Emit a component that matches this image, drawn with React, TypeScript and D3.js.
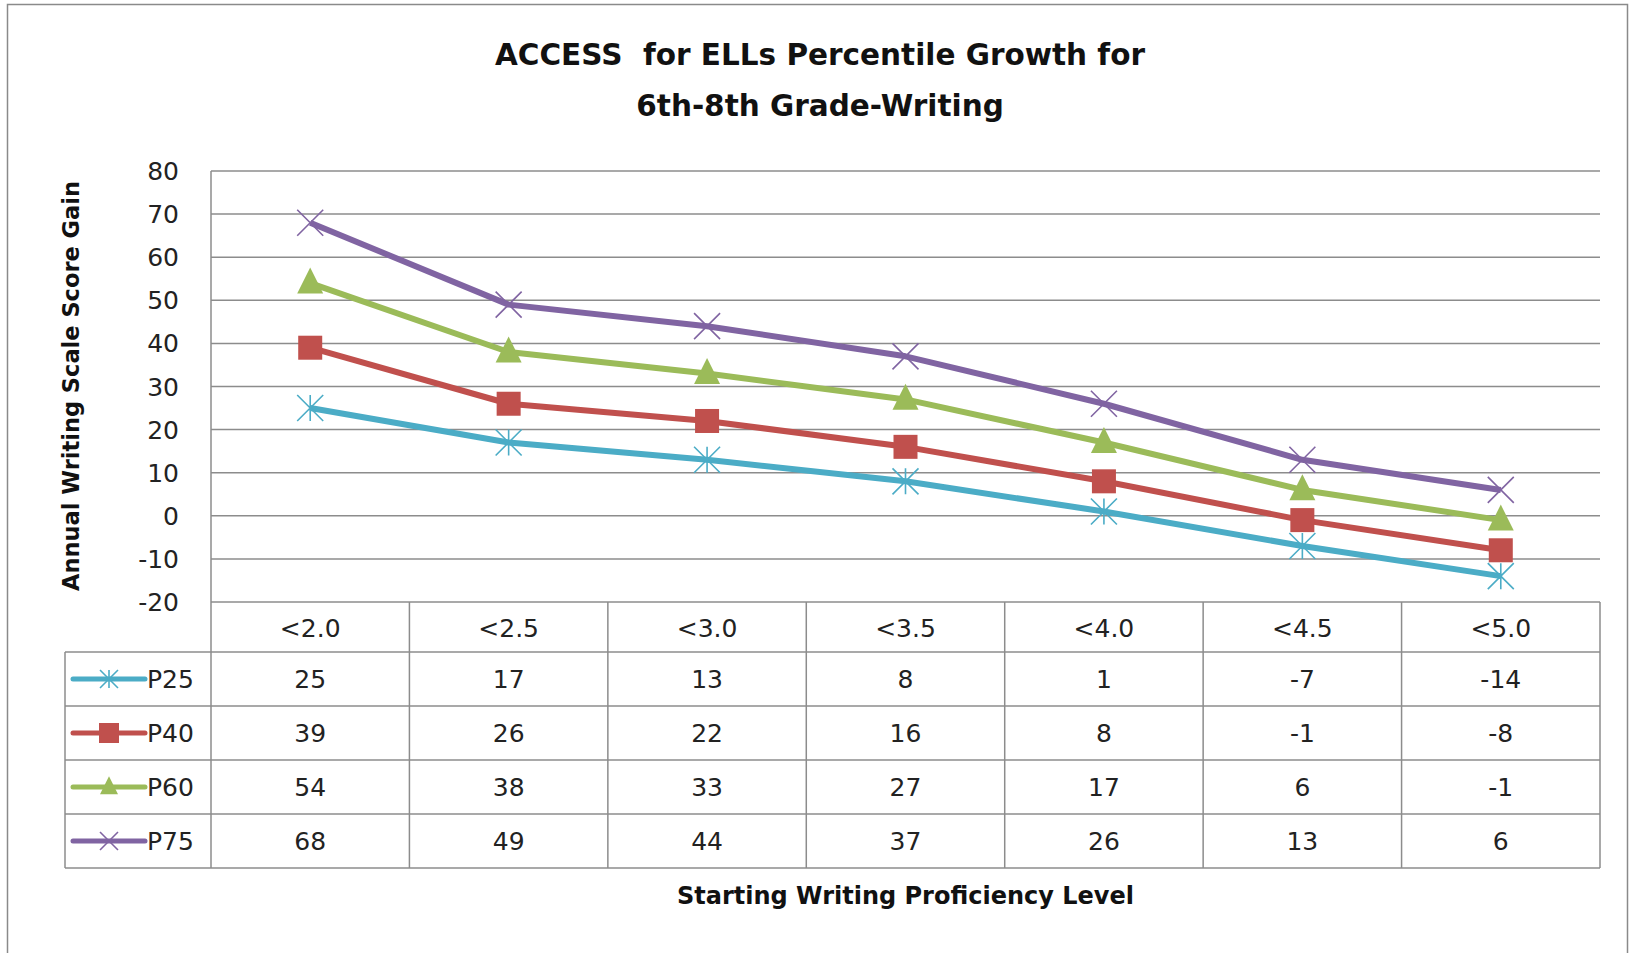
import React, { useEffect, useRef } from "react";
import { select, scaleBand, scaleLinear, line, range } from "d3";

// chart data
const categories = ["<2.0", "<2.5", "<3.0", "<3.5", "<4.0", "<4.5", "<5.0"];
const seriesNames = ["P25", "P40", "P60", "P75"];
const p25 = [25, 17, 13, 8, 1, -7, -14];
const p40 = [39, 26, 22, 16, 8, -1, -8];
const p60 = [54, 38, 33, 27, 17, 6, -1];
const p75 = [68, 49, 44, 37, 26, 13, 6];
const yTicks = [80, 70, 60, 50, 40, 30, 20, 10, 0, -10, -20];

const colors = ["#4bacc6", "#c0504d", "#9bbb59", "#8064a2"];
const markers = ["star", "square", "triangle", "x"];
const FONT = "'DejaVu Sans', Verdana, sans-serif";
const GRID = "#8c8c8c";

const W = 1631;
const H = 953;

function drawMarker(g, type, x, y, color, s) {
  if (type === "square") {
    g.append("rect").attr("x", x - s / 2).attr("y", y - s / 2)
      .attr("width", s).attr("height", s).attr("fill", color);
  } else if (type === "triangle") {
    g.append("path")
      .attr("d", `M${x},${y - s * 0.6}L${x + s / 2},${y + s * 0.4}L${x - s / 2},${y + s * 0.4}Z`)
      .attr("fill", color);
  } else {
    const h = s / 2;
    let d = `M${x - h},${y - h}L${x + h},${y + h}M${x - h},${y + h}L${x + h},${y - h}`;
    if (type === "star") d += `M${x},${y - h}L${x},${y + h}`;
    g.append("path").attr("d", d).attr("stroke", color)
      .attr("stroke-width", 1.6).attr("fill", "none");
  }
}

export default function App() {
  const svgRef = useRef(null);

  useEffect(() => {
    const svg = select(svgRef.current);
    svg.selectAll("*").remove();
    const data = [p25, p40, p60, p75];

    const left = 211, right = 1600, top = 171, bottom = 602;
    const headerH = 50, rowH = 54, legendLeft = 65;

    const xScale = scaleBand().domain(categories).range([left, right]).padding(0);
    const yScale = scaleLinear().domain([-20, 80]).range([bottom, top]);
    const cx = (c) => xScale(c) + xScale.bandwidth() / 2;

    // outer frame
    svg.append("rect").attr("x", 7.5).attr("y", 4.5).attr("width", 1620)
      .attr("height", 980).attr("fill", "#fff").attr("stroke", "#8a8a8a").attr("stroke-width", 1.5);

    // title
    const title = svg.append("text").attr("font-family", FONT)
      .attr("font-weight", "bold").attr("font-size", 29.5).attr("text-anchor", "middle").attr("fill", "#111");
    title.append("tspan").attr("x", 820).attr("y", 65).text("ACCESS\u00a0 for ELLs Percentile Growth for");
    title.append("tspan").attr("x", 820).attr("y", 116).text("6th-8th Grade-Writing");

    // gridlines
    svg.append("g").selectAll("line").data(yTicks).join("line")
      .attr("x1", left).attr("x2", right)
      .attr("y1", (d) => yScale(d)).attr("y2", (d) => yScale(d))
      .attr("stroke", GRID).attr("stroke-width", 1.5);

    // y tick labels
    svg.append("g").selectAll("text").data(yTicks).join("text")
      .attr("x", 179).attr("y", (d) => yScale(d) + 9)
      .attr("text-anchor", "end").attr("font-family", FONT).attr("font-size", 25)
      .attr("fill", "#222").text((d) => d);

    // y axis title
    svg.append("text").attr("transform", `translate(79, 386) rotate(-90)`)
      .attr("text-anchor", "middle").attr("font-family", FONT).attr("font-weight", "bold")
      .attr("font-size", 22.5).attr("fill", "#111").text("Annual Writing Scale Score Gain");

    // table lines
    const tableBottom = bottom + headerH + rowH * 4;
    const tg = svg.append("g").attr("stroke", GRID).attr("stroke-width", 1.5);
    tg.append("line").attr("x1", left).attr("x2", left).attr("y1", top).attr("y2", tableBottom);
    range(1, categories.length + 1).forEach((i) => {
      const x = left + i * xScale.bandwidth();
      tg.append("line").attr("x1", x).attr("x2", x).attr("y1", bottom).attr("y2", tableBottom);
    });
    range(0, 5).forEach((i) => {
      const y = bottom + headerH + i * rowH;
      tg.append("line").attr("x1", legendLeft).attr("x2", right).attr("y1", y).attr("y2", y);
    });
    tg.append("line").attr("x1", legendLeft).attr("x2", legendLeft)
      .attr("y1", bottom + headerH).attr("y2", tableBottom);

    // header labels
    svg.append("g").selectAll("text").data(categories).join("text")
      .attr("x", (d) => cx(d)).attr("y", bottom + 35)
      .attr("text-anchor", "middle").attr("font-family", FONT).attr("font-size", 25)
      .attr("fill", "#222").text((d) => d);

    // table values + legend
    data.forEach((vals, si) => {
      const rowY = bottom + headerH + si * rowH + rowH / 2;
      svg.append("g").selectAll("text").data(vals).join("text")
        .attr("x", (d, i) => cx(categories[i])).attr("y", rowY + 9)
        .attr("text-anchor", "middle").attr("font-family", FONT).attr("font-size", 25)
        .attr("fill", "#222").text((d) => d);
      const lg = svg.append("g");
      lg.append("line").attr("x1", 73).attr("x2", 145).attr("y1", rowY).attr("y2", rowY)
        .attr("stroke", colors[si]).attr("stroke-width", 5).attr("stroke-linecap", "round");
      drawMarker(lg, markers[si], 109, rowY, colors[si], markers[si] === "square" ? 20 : 18);
      lg.append("text").attr("x", 147).attr("y", rowY + 9).attr("font-family", FONT)
        .attr("font-size", 25).attr("fill", "#222").text(seriesNames[si]);
    });

    // series lines
    const lineGen = line().x((d, i) => cx(categories[i])).y((d) => yScale(d));
    data.forEach((vals, si) => {
      svg.append("path").attr("d", lineGen(vals)).attr("fill", "none")
        .attr("stroke", colors[si]).attr("stroke-width", 6).attr("stroke-linejoin", "round");
    });
    data.forEach((vals, si) => {
      const mg = svg.append("g");
      vals.forEach((v, i) => {
        drawMarker(mg, markers[si], cx(categories[i]), yScale(v), colors[si],
          markers[si] === "square" ? 24 : 26);
      });
    });

    // x axis title
    svg.append("text").attr("x", (left + right) / 2).attr("y", 904)
      .attr("text-anchor", "middle").attr("font-family", FONT).attr("font-weight", "bold")
      .attr("font-size", 24).attr("fill", "#111").text("Starting Writing Proficiency Level");
  }, []);

  return (
    <svg ref={svgRef} width={W} height={H}
      style={{ position: "absolute", left: 0, top: 0, background: "#fff" }} />
  );
}
